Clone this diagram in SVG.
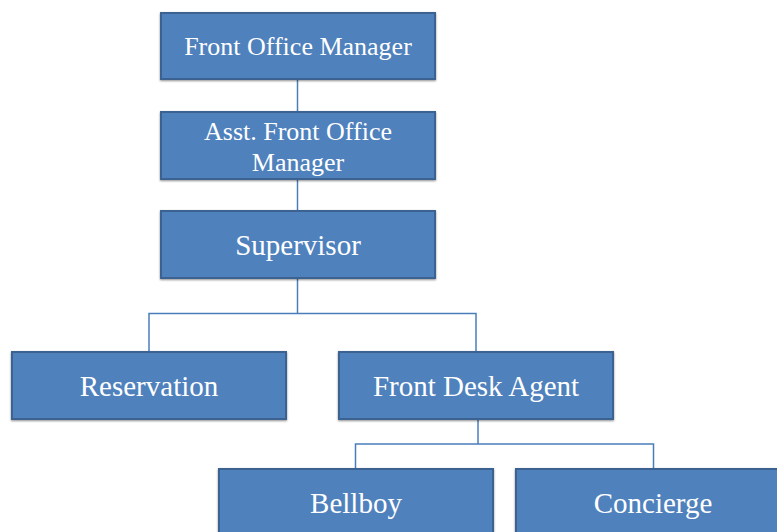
<svg xmlns="http://www.w3.org/2000/svg" width="777" height="532" viewBox="0 0 777 532">
<defs>
<filter id="sh" x="-5%" y="-10%" width="110%" height="120%">
<feGaussianBlur in="SourceAlpha" stdDeviation="1.2"/>
<feOffset dx="0" dy="0.5"/>
<feComponentTransfer><feFuncA type="linear" slope="0.45"/></feComponentTransfer>
<feMerge><feMergeNode/><feMergeNode in="SourceGraphic"/></feMerge>
</filter>
</defs>
<style>
.box{fill:#4f81bd;stroke:#3b6291;stroke-width:2;filter:url(#sh)}
.t{fill:#ffffff;font-family:"Liberation Serif","Times New Roman",serif;text-anchor:middle}
.s{font-size:26px}
.l{font-size:29px}
.c{fill:none;stroke:#4a7ebb;stroke-width:1.5}
</style>
<rect width="777" height="532" fill="#ffffff"/>
<g id="connectors">
<line class="c" x1="297.5" y1="80" x2="297.5" y2="112"/>
<line class="c" x1="297.5" y1="180" x2="297.5" y2="211"/>
<polyline class="c" points="297.5,278 297.5,313.5"/>
<polyline class="c" points="149,352 149,313.5 476,313.5 476,352"/>
<polyline class="c" points="478,420 478,444"/>
<polyline class="c" points="355.5,469 355.5,444 653.5,444 653.5,469"/>
</g>
<g id="front-office-manager">
<rect class="box" x="161" y="13" width="274" height="66"/>
<text class="t s" x="298" y="55">Front Office Manager</text>
</g>
<g id="asst-front-office-manager">
<rect class="box" x="161" y="112" width="274" height="67"/>
<text class="t s" x="298" y="140">Asst. Front Office</text>
<text class="t s" x="298" y="171">Manager</text>
</g>
<g id="supervisor">
<rect class="box" x="161" y="211" width="274" height="67"/>
<text class="t l" x="298" y="255">Supervisor</text>
</g>
<g id="reservation">
<rect class="box" x="12" y="352" width="274" height="67"/>
<text class="t l" x="149" y="396">Reservation</text>
</g>
<g id="front-desk-agent">
<rect class="box" x="339" y="352" width="274" height="67"/>
<text class="t l" x="476" y="396">Front Desk Agent</text>
</g>
<g id="bellboy">
<rect class="box" x="219" y="469" width="274" height="67"/>
<text class="t l" x="356" y="513">Bellboy</text>
</g>
<g id="concierge">
<rect class="box" x="516" y="469" width="274" height="67"/>
<text class="t l" x="653" y="513">Concierge</text>
</g>
</svg>
